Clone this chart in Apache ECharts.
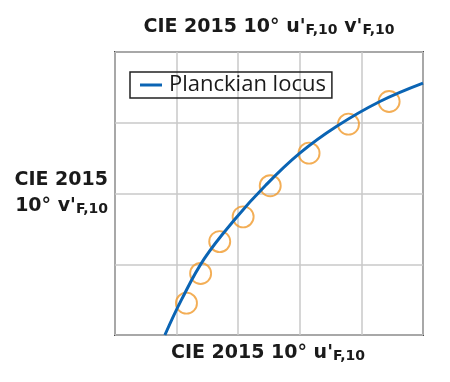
<!DOCTYPE html>
<html><head><meta charset="utf-8">
<script src="https://cdn.jsdelivr.net/npm/echarts@6/dist/echarts.min.js"></script>
<style>html,body{margin:0;padding:0;background:#fff}#c{width:450px;height:382px}</style>
</head><body><div id="c"></div>
<script>
// Planckian locus (u', v') in chart units
const locusU = [0.81, 1.08, 1.45, 1.95, 2.45, 3.00, 3.60, 4.30, 5.00];
const locusV = [0.00, 0.50, 1.08, 1.64, 2.12, 2.57, 2.95, 3.30, 3.56];
// measured points
const pointU = [1.16, 1.39, 1.70, 2.08, 2.52, 3.15, 3.79, 4.45];
const pointV = [0.45, 0.87, 1.32, 1.67, 2.11, 2.57, 2.98, 3.30];
const seriesName = 'Planckian locus';
const titleTop = "{b|CIE 2015 10° u'}{s|F,10}{b| v'}{s|F,10}";
const titleX = "{b|CIE 2015 10° u'}{s|F,10}";
const titleY = "{b|CIE 2015}\n{b|10° v'}{s|F,10}";

const FONT = '"DejaVu Sans", "Open Sans", sans-serif';
const rich = {
  b: {fontFamily: FONT, fontWeight: 'bold', fontSize: 19, color: '#1a1a1a', lineHeight: 26, verticalAlign: 'bottom'},
  s: {fontFamily: FONT, fontWeight: 'bold', fontSize: 14, color: '#1a1a1a', lineHeight: 20, verticalAlign: 'bottom'}
};
const chart = echarts.init(document.getElementById('c'), null, {renderer: 'canvas'});
chart.setOption({
  animation: false,
  grid: {left: 115, top: 52, right: 27, bottom: 47, show: true, borderColor: '#4a4a4a', borderWidth: 2, containLabel: false},
  title: [
    {text: titleTop, left: 269, top: 11, textAlign: 'center', padding: 0, textStyle: {rich: rich}},
    {text: titleX, left: 268, top: 337, textAlign: 'center', padding: 0, textStyle: {rich: rich}},
    {text: titleY, left: 108, top: 164, textAlign: 'right', padding: 0, textStyle: {rich: rich, align: 'right'}}
  ],
  legend: {
    data: [seriesName], left: 130, top: 72, icon: 'rect', itemWidth: 22, itemHeight: 3, itemGap: 0,
    borderColor: '#222', borderWidth: 1.5, borderRadius: 0, padding: [2, 6, 2, 10],
    textStyle: {fontFamily: '"Open Sans", sans-serif', fontSize: 22, lineHeight: 22, color: '#1a1a1a', padding: [0,0,0,2]},
    selectedMode: false
  },
  xAxis: {type: 'value', min: 0, max: 5, interval: 1,
    axisLine: {show: false}, axisTick: {show: false}, axisLabel: {show: false},
    splitLine: {show: true, lineStyle: {color: '#c8c8c8', width: 1.5}}},
  yAxis: {type: 'value', min: 0, max: 4, interval: 1,
    axisLine: {show: false}, axisTick: {show: false}, axisLabel: {show: false},
    splitLine: {show: true, lineStyle: {color: '#c8c8c8', width: 1.5}}},
  series: [
    {name: seriesName, type: 'line', smooth: 0.4, showSymbol: false, symbol: 'none',
     lineStyle: {color: '#0a64b4', width: 3}, itemStyle: {color: '#0a64b4'},
     data: locusU.map((u, i) => [u, locusV[i]]), z: 3},
    {name: 'points', type: 'scatter', symbol: 'circle', symbolSize: 21,
     itemStyle: {color: 'rgba(0,0,0,0)', borderColor: '#f09a2c', borderWidth: 1.9},
     data: pointU.map((u, i) => [u, pointV[i]]), z: 2}
  ]
});
</script></body></html>
